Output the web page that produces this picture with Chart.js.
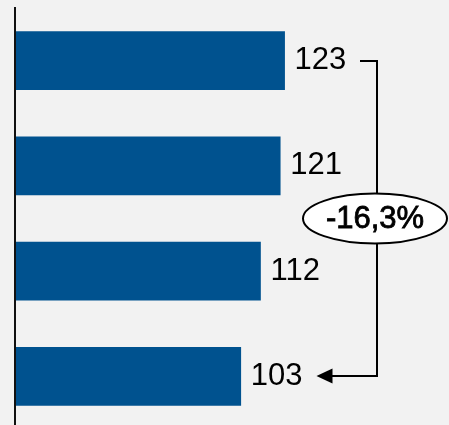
<!DOCTYPE html>
<html>
<head>
<meta charset="utf-8">
<script src="https://cdn.jsdelivr.net/npm/chart.js@4/dist/chart.umd.min.js"></script>
<style>
    html, body { margin: 0; padding: 0; background: #f2f2f2; overflow: hidden; }
    #wrap { width: 449px; height: 429px; position: relative; }
</style>
</head>
<body>
<div id="wrap"><canvas id="barChart"></canvas></div>
<script>
const categories = ['A', 'B', 'C', 'D'];
const values = [123, 121, 112, 103];

const barColor = '#00528f';
const labelFont = '31px "Liberation Sans", Arial, sans-serif';

// value labels at the end of each bar
const valueLabels = {
    id: 'valueLabels',
    afterDatasetsDraw(chart) {
        const ctx = chart.ctx;
        const meta = chart.getDatasetMeta(0);
        ctx.save();
        ctx.font = labelFont;
        ctx.fillStyle = '#000';
        ctx.textBaseline = 'middle';
        ctx.textAlign = 'left';
        meta.data.forEach((bar, i) => {
            ctx.fillText(String(values[i]), bar.x + 10, bar.y);
        });
        ctx.restore();
    }
};

// bracket from first to last bar with the percent change
const changeBracket = {
    id: 'changeBracket',
    afterDatasetsDraw(chart) {
        const ctx = chart.ctx;
        const meta = chart.getDatasetMeta(0);
        const first = meta.data[0];
        const last = meta.data[meta.data.length - 1];
        const xLine = Math.round(chart.scales.x.getPixelForValue(165));
        const yTop = Math.round(first.y);
        const yBot = Math.round(last.y);

        ctx.save();
        ctx.font = labelFont;
        const firstEnd = first.x + 10 + ctx.measureText(String(values[0])).width;
        const lastEnd = last.x + 10 + ctx.measureText(String(values[values.length - 1])).width;

        ctx.strokeStyle = '#000';
        ctx.lineWidth = 2;
        ctx.beginPath();
        ctx.moveTo(Math.round(firstEnd + 14), yTop);
        ctx.lineTo(xLine, yTop);
        ctx.lineTo(xLine, yBot);
        ctx.lineTo(Math.round(lastEnd + 28), yBot);
        ctx.stroke();

        // arrow head
        ctx.fillStyle = '#000';
        ctx.beginPath();
        ctx.moveTo(lastEnd + 14, yBot);
        ctx.lineTo(lastEnd + 30, yBot - 7.5);
        ctx.lineTo(lastEnd + 30, yBot + 7.5);
        ctx.closePath();
        ctx.fill();

        // ellipse with the change
        const cy = (first.y + last.y) / 2;
        const cx = xLine - 2;
        ctx.beginPath();
        ctx.ellipse(cx, cy, 72, 25, 0, 0, Math.PI * 2);
        ctx.fillStyle = '#fff';
        ctx.fill();
        ctx.lineWidth = 2;
        ctx.stroke();

        const change = (values[values.length - 1] - values[0]) / values[0] * 100;
        const text = change.toFixed(1).replace('.', ',') + '%';
        ctx.font = '31px "Liberation Sans", Arial, sans-serif';
        ctx.fillStyle = '#000';
        ctx.textAlign = 'center';
        ctx.textBaseline = 'middle';
        ctx.lineWidth = 0.8;
        ctx.strokeText(text, cx, cy + 1);
        ctx.fillText(text, cx, cy + 1);
        ctx.restore();
    }
};

new Chart(document.getElementById('barChart'), {
    type: 'bar',
    data: {
        labels: categories,
        datasets: [{
            data: values,
            backgroundColor: barColor,
            borderWidth: 0,
            barThickness: 58
        }]
    },
    options: {
        indexAxis: 'y',
        responsive: true,
        maintainAspectRatio: false,
        animation: false,
        layout: { padding: { left: 15, top: 8, right: 0, bottom: 0 } },
        scales: {
            x: {
                display: false,
                min: 0,
                max: 198
            },
            y: {
                ticks: { display: false },
                grid: { display: false, drawTicks: false },
                border: { display: true, color: '#111', width: 2, z: 1 },
                afterFit: (scale) => { scale.width = 0; }
            }
        },
        plugins: {
            legend: { display: false },
            tooltip: { enabled: false }
        }
    },
    plugins: [valueLabels, changeBracket]
});
</script>
</body>
</html>
